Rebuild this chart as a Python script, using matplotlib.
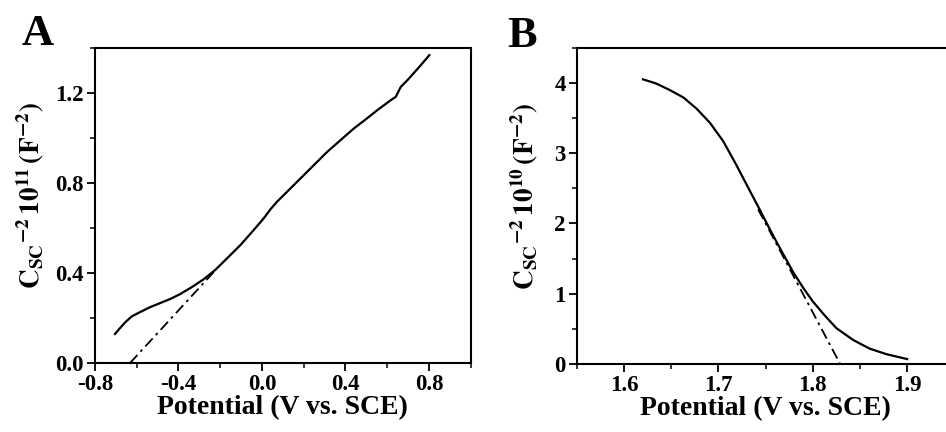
import matplotlib
matplotlib.use("Agg")
import matplotlib.pyplot as plt
from matplotlib.ticker import MultipleLocator

plt.rcParams['font.family'] = ['Liberation Serif', 'DejaVu Serif']
plt.rcParams['font.weight'] = 'bold'
plt.rcParams['mathtext.fontset'] = 'stix'

# Panel A data
a_x = [-0.704, -0.680, -0.656, -0.624, -0.584, -0.536, -0.488, -0.440, -0.392, -0.336,
       -0.279, -0.223, -0.167, -0.103, -0.039, 0.009, 0.041, 0.073, 0.121, 0.185,
       0.249, 0.313, 0.377, 0.441, 0.489, 0.553, 0.617, 0.641, 0.665, 0.697, 0.754, 0.802]
a_y = [0.129, 0.155, 0.180, 0.207, 0.226, 0.248, 0.266, 0.284, 0.306, 0.337,
       0.372, 0.414, 0.465, 0.524, 0.591, 0.643, 0.683, 0.717, 0.761, 0.820,
       0.879, 0.938, 0.990, 1.042, 1.076, 1.123, 1.167, 1.182, 1.226, 1.256, 1.315, 1.367]
a_fit_x = [-0.632, -0.22]
a_fit_y = [0.0, 0.415]

# Panel B data
b_x = [1.620, 1.634, 1.648, 1.663, 1.677, 1.691, 1.705, 1.719, 1.733, 1.744, 1.752,
       1.761, 1.770, 1.779, 1.790, 1.800, 1.812, 1.825, 1.843, 1.860, 1.878, 1.900]
b_y = [4.05, 3.99, 3.90, 3.79, 3.63, 3.43, 3.17, 2.83, 2.47, 2.19, 1.98,
       1.75, 1.53, 1.31, 1.08, 0.89, 0.70, 0.51, 0.34, 0.22, 0.14, 0.07]
b_fit_x = [1.742, 1.829]
b_fit_y = [2.20, 0.0]

fig = plt.figure(figsize=(9.46, 4.32), dpi=100)
axA = fig.add_axes([95/946, 1-363/432, (470.7-95)/946, (363-47.7)/432])
axB = fig.add_axes([577/946, 1-364/432, 377.3/946, (364-47.7)/432])

def style(ax):
    for s in ax.spines.values():
        s.set_linewidth(1.5)
    ax.tick_params(which='major', direction='out', length=6, width=1.3, labelsize=16.5,
                   top=False, right=False, pad=2)
    ax.tick_params(which='minor', direction='out', length=3.5, width=1.1, top=False, right=False)
    for lab in ax.get_xticklabels() + ax.get_yticklabels():
        lab.set_fontweight('bold')

ls_dd = (0, (6, 2.5, 1.5, 2.5))

axA.plot(a_x, a_y, color='black', lw=1.6)
axA.plot(a_fit_x, a_fit_y, color='black', lw=1.3, linestyle=ls_dd)
axA.set_xlim(-0.8, 1.0)
axA.set_ylim(0.0, 1.4)
axA.xaxis.set_minor_locator(MultipleLocator(0.2))
axA.yaxis.set_minor_locator(MultipleLocator(0.2))
axA.set_xticks([-0.8, -0.4, 0.0, 0.4, 0.8])
axA.set_xticklabels(['-0.8', '-0.4', '0.0', '0.4', '0.8'])
axA.set_yticks([0.0, 0.4, 0.8, 1.2])
axA.set_yticklabels(['0.0', '0.4', '0.8', '1.2'])
style(axA)
axA.set_xlabel('Potential (V vs. SCE)', fontsize=20, fontweight='bold', labelpad=0)
axA.set_ylabel(r'$\mathbf{C_{SC}{}^{-2}\,10^{11}\,(F^{-2})}$', fontsize=19.5)
axA.yaxis.set_label_coords(-0.130, 0.53)

axB.plot(b_x, b_y, color='black', lw=1.6)
axB.plot(b_fit_x, b_fit_y, color='black', lw=1.3, linestyle=ls_dd)
axB.set_xlim(1.55, 1.95)
axB.set_ylim(0, 4.5)
axB.set_xticks([1.6, 1.7, 1.8, 1.9])
axB.set_xticklabels(['1.6', '1.7', '1.8', '1.9'])
axB.xaxis.set_minor_locator(MultipleLocator(0.05))
axB.set_yticks([0, 1, 2, 3, 4])
axB.set_yticklabels(['0', '1', '2', '3', '4'])
axB.yaxis.set_minor_locator(MultipleLocator(0.5))
style(axB)
axB.set_xlabel('Potential (V vs. SCE)', fontsize=20, fontweight='bold', labelpad=0)
axB.set_ylabel(r'$\mathbf{C_{SC}{}^{-2}\,10^{10}\,(F^{-2})}$', fontsize=19.5)
axB.yaxis.set_label_coords(-0.098, 0.53)

fig.text(22/946, 1-45/432, 'A', fontsize=32, fontweight='bold', va='baseline', ha='left')
fig.text(507/946, 1-47/432, 'B', fontsize=32, fontweight='bold', va='baseline', ha='left')

fig.savefig('out.png', dpi=100)
